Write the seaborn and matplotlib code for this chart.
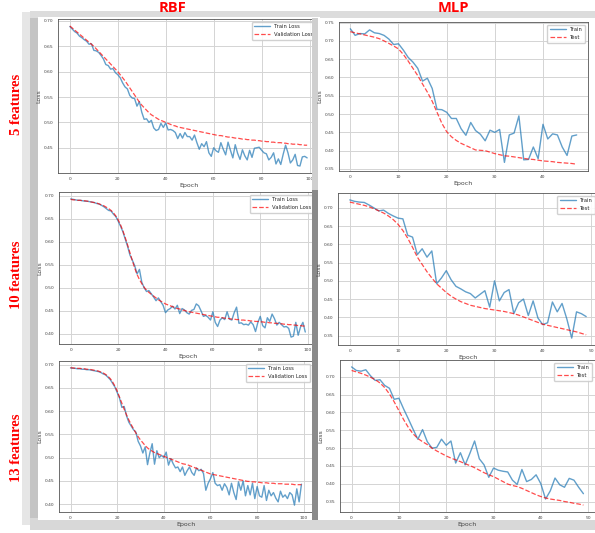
import numpy as np
import matplotlib
matplotlib.use("Agg")
import matplotlib.pyplot as plt
import seaborn as sns
from matplotlib.patches import Rectangle

# ---- data ----
rbf5_train = [0.689, 0.684, 0.679, 0.676, 0.670, 0.667, 0.663, 0.660, 0.654, 0.655,
              0.642, 0.641, 0.638, 0.632, 0.625, 0.614, 0.612, 0.605, 0.606, 0.598,
              0.594, 0.588, 0.578, 0.570, 0.566, 0.553, 0.548, 0.547, 0.532, 0.541,
              0.520, 0.506, 0.507, 0.500, 0.504, 0.489, 0.484, 0.486, 0.498, 0.490,
              0.499, 0.485, 0.486, 0.484, 0.480, 0.468, 0.478, 0.469, 0.480, 0.472,
              0.472, 0.465, 0.475, 0.460, 0.447, 0.458, 0.452, 0.462, 0.440, 0.433,
              0.450, 0.444, 0.441, 0.460, 0.447, 0.436, 0.461, 0.445, 0.430, 0.456,
              0.439, 0.427, 0.446, 0.434, 0.426, 0.445, 0.431, 0.449, 0.450, 0.451,
              0.445, 0.440, 0.438, 0.426, 0.431, 0.440, 0.418, 0.428, 0.417, 0.437,
              0.455, 0.440, 0.420, 0.426, 0.437, 0.415, 0.414, 0.432, 0.433, 0.430]
rbf5_val = [0.690, 0.686, 0.682, 0.678, 0.674, 0.670, 0.666, 0.662, 0.658, 0.654,
            0.650, 0.645, 0.640, 0.635, 0.630, 0.625, 0.620, 0.615, 0.610, 0.605,
            0.600, 0.594, 0.588, 0.582, 0.575, 0.568, 0.561, 0.554, 0.547, 0.540,
            0.534, 0.529, 0.524, 0.519, 0.515, 0.512, 0.509, 0.506, 0.504, 0.502,
            0.500, 0.498, 0.496, 0.494, 0.493, 0.491, 0.490, 0.489, 0.488, 0.487,
            0.486, 0.485, 0.484, 0.483, 0.482, 0.481, 0.480, 0.479, 0.478, 0.477,
            0.476, 0.475, 0.474, 0.474, 0.473, 0.472, 0.471, 0.471, 0.470, 0.469,
            0.469, 0.468, 0.467, 0.467, 0.466, 0.466, 0.465, 0.465, 0.464, 0.464,
            0.463, 0.463, 0.462, 0.462, 0.461, 0.461, 0.460, 0.460, 0.460, 0.459,
            0.459, 0.458, 0.458, 0.457, 0.457, 0.457, 0.456, 0.456, 0.455, 0.455]

rbf10_train = [0.693, 0.692, 0.691, 0.690, 0.690, 0.689, 0.688, 0.688, 0.687, 0.686,
               0.685, 0.683, 0.682, 0.679, 0.676, 0.672, 0.668, 0.667, 0.660, 0.655,
               0.645, 0.634, 0.622, 0.606, 0.590, 0.571, 0.560, 0.548, 0.530, 0.540,
               0.512, 0.500, 0.492, 0.494, 0.487, 0.480, 0.472, 0.478, 0.470, 0.462,
               0.446, 0.452, 0.455, 0.460, 0.454, 0.462, 0.444, 0.455, 0.452, 0.446,
               0.443, 0.451, 0.453, 0.465, 0.461, 0.450, 0.438, 0.440, 0.436, 0.430,
               0.448, 0.425, 0.416, 0.430, 0.435, 0.431, 0.448, 0.432, 0.430, 0.446,
               0.458, 0.423, 0.424, 0.420, 0.421, 0.419, 0.426, 0.420, 0.405, 0.425,
               0.438, 0.418, 0.413, 0.435, 0.427, 0.443, 0.433, 0.419, 0.425, 0.420,
               0.415, 0.416, 0.412, 0.393, 0.395, 0.425, 0.397, 0.415, 0.425, 0.404]
rbf10_val = [0.692, 0.691, 0.691, 0.690, 0.690, 0.689, 0.689, 0.688, 0.687, 0.686,
             0.685, 0.684, 0.682, 0.680, 0.678, 0.675, 0.672, 0.668, 0.663, 0.656,
             0.648, 0.637, 0.624, 0.609, 0.593, 0.576, 0.559, 0.543, 0.529, 0.518,
             0.509, 0.501, 0.495, 0.490, 0.486, 0.482, 0.478, 0.474, 0.471, 0.468,
             0.465, 0.463, 0.461, 0.459, 0.457, 0.455, 0.454, 0.452, 0.451, 0.449,
             0.448, 0.447, 0.446, 0.445, 0.444, 0.443, 0.442, 0.441, 0.440, 0.439,
             0.438, 0.437, 0.436, 0.436, 0.435, 0.434, 0.434, 0.433, 0.432, 0.432,
             0.431, 0.431, 0.430, 0.430, 0.429, 0.429, 0.428, 0.428, 0.427, 0.427,
             0.426, 0.426, 0.425, 0.425, 0.424, 0.424, 0.423, 0.423, 0.422, 0.422,
             0.421, 0.421, 0.420, 0.420, 0.419, 0.419, 0.418, 0.418, 0.417, 0.417]

rbf13_train = [0.693, 0.692, 0.692, 0.691, 0.691, 0.690, 0.690, 0.689, 0.689, 0.688,
               0.687, 0.686, 0.685, 0.683, 0.680, 0.678, 0.673, 0.668, 0.660, 0.652,
               0.640, 0.628, 0.608, 0.610, 0.590, 0.576, 0.568, 0.560, 0.555, 0.535,
               0.525, 0.510, 0.523, 0.485, 0.510, 0.530, 0.486, 0.515, 0.500, 0.505,
               0.500, 0.512, 0.484, 0.498, 0.487, 0.478, 0.480, 0.470, 0.480, 0.462,
               0.472, 0.480, 0.468, 0.462, 0.478, 0.472, 0.475, 0.466, 0.430, 0.445,
               0.455, 0.468, 0.445, 0.440, 0.442, 0.430, 0.444, 0.436, 0.420, 0.445,
               0.425, 0.410, 0.448, 0.430, 0.450, 0.418, 0.440, 0.420, 0.445, 0.412,
               0.438, 0.418, 0.415, 0.440, 0.408, 0.430, 0.418, 0.425, 0.413, 0.405,
               0.428, 0.415, 0.420, 0.412, 0.425, 0.420, 0.398, 0.433, 0.405, 0.443]
rbf13_val = [0.693, 0.693, 0.692, 0.692, 0.692, 0.691, 0.691, 0.690, 0.690, 0.689,
             0.688, 0.687, 0.686, 0.684, 0.682, 0.679, 0.675, 0.670, 0.663, 0.654,
             0.643, 0.630, 0.617, 0.604, 0.592, 0.581, 0.571, 0.562, 0.553, 0.545,
             0.538, 0.532, 0.526, 0.521, 0.517, 0.514, 0.511, 0.509, 0.507, 0.505,
             0.503, 0.501, 0.499, 0.497, 0.495, 0.493, 0.491, 0.489, 0.487, 0.486,
             0.485, 0.483, 0.481, 0.479, 0.477, 0.475, 0.473, 0.471, 0.469, 0.467,
             0.465, 0.464, 0.463, 0.462, 0.461, 0.460, 0.459, 0.458, 0.457, 0.456,
             0.455, 0.454, 0.453, 0.452, 0.451, 0.450, 0.449, 0.449, 0.448, 0.448,
             0.447, 0.447, 0.446, 0.446, 0.446, 0.445, 0.445, 0.445, 0.444, 0.444,
             0.444, 0.444, 0.443, 0.443, 0.443, 0.443, 0.442, 0.442, 0.442, 0.442]

mlp5_train = [0.733, 0.715, 0.720, 0.719, 0.730, 0.722, 0.720, 0.715, 0.705, 0.690,
              0.692, 0.675, 0.655, 0.642, 0.625, 0.590, 0.598, 0.570, 0.513, 0.512,
              0.505, 0.488, 0.488, 0.460, 0.442, 0.477, 0.455, 0.445, 0.427, 0.456,
              0.450, 0.458, 0.368, 0.443, 0.448, 0.495, 0.375, 0.376, 0.410, 0.378,
              0.472, 0.432, 0.446, 0.443, 0.410, 0.387, 0.440, 0.443]
mlp5_test = [0.725, 0.722, 0.719, 0.716, 0.713, 0.710, 0.706, 0.700, 0.693, 0.686,
             0.678, 0.663, 0.645, 0.625, 0.605, 0.582, 0.560, 0.535, 0.505, 0.475,
             0.452, 0.438, 0.428, 0.420, 0.414, 0.408, 0.402, 0.401, 0.400, 0.396,
             0.392, 0.389, 0.386, 0.385, 0.383, 0.381, 0.379, 0.377, 0.376, 0.374,
             0.372, 0.371, 0.370, 0.368, 0.367, 0.366, 0.365, 0.363]

mlp10_train = [0.722, 0.718, 0.716, 0.715, 0.708, 0.700, 0.692, 0.694, 0.685, 0.678,
               0.672, 0.670, 0.625, 0.620, 0.572, 0.588, 0.565, 0.582, 0.492, 0.508,
               0.528, 0.503, 0.485, 0.478, 0.470, 0.465, 0.453, 0.463, 0.473, 0.428,
               0.500, 0.445, 0.468, 0.476, 0.410, 0.440, 0.450, 0.405, 0.445, 0.398,
               0.380, 0.385, 0.442, 0.415, 0.438, 0.395, 0.343, 0.415, 0.410, 0.402]
mlp10_test = [0.716, 0.713, 0.710, 0.707, 0.703, 0.698, 0.692, 0.686, 0.678, 0.668,
              0.655, 0.638, 0.617, 0.592, 0.565, 0.545, 0.525, 0.508, 0.492, 0.480,
              0.468, 0.458, 0.450, 0.443, 0.438, 0.433, 0.430, 0.427, 0.424, 0.422,
              0.420, 0.418, 0.416, 0.413, 0.410, 0.406, 0.401, 0.396, 0.391, 0.386,
              0.381, 0.378, 0.375, 0.372, 0.369, 0.366, 0.363, 0.360, 0.356, 0.352]

mlp13_train = [0.728, 0.718, 0.716, 0.720, 0.703, 0.690, 0.692, 0.676, 0.668, 0.637,
               0.640, 0.610, 0.582, 0.553, 0.525, 0.552, 0.518, 0.500, 0.502, 0.525,
               0.508, 0.520, 0.458, 0.487, 0.453, 0.485, 0.520, 0.470, 0.453, 0.418,
               0.444, 0.438, 0.435, 0.433, 0.410, 0.398, 0.440, 0.406, 0.412, 0.425,
               0.400, 0.357, 0.380, 0.416, 0.397, 0.390, 0.415, 0.410, 0.390, 0.372]
mlp13_test = [0.718, 0.714, 0.710, 0.705, 0.699, 0.692, 0.683, 0.670, 0.652, 0.630,
              0.605, 0.580, 0.558, 0.540, 0.527, 0.518, 0.510, 0.500, 0.492, 0.485,
              0.478, 0.472, 0.467, 0.462, 0.456, 0.451, 0.445, 0.438, 0.431, 0.425,
              0.420, 0.413, 0.406, 0.399, 0.395, 0.392, 0.387, 0.381, 0.375, 0.369,
              0.364, 0.360, 0.357, 0.355, 0.353, 0.350, 0.348, 0.345, 0.343, 0.340]

col_titles = ["RBF", "MLP"]
row_titles = ["5 features", "10 features", "13 features"]
rbf_labels = ["Train Loss", "Validation Loss"]
mlp_labels = ["Train", "Test"]

W, H = 595, 533
sns.set_theme(style="whitegrid")
plt.rcParams["font.family"] = ["DejaVu Sans"]

fig = plt.figure(figsize=(W / 100, H / 100), dpi=100)
fig.patch.set_facecolor("white")


def rect(x0, y0, x1, y1):
    return [x0 / W, 1 - y1 / H, (x1 - x0) / W, (y1 - y0) / H]


# background shadows
bg = fig.add_axes([0, 0, 1, 1], zorder=0)
bg.set_xlim(0, W)
bg.set_ylim(H, 0)
bg.axis("off")
for (x0, y0, x1, y1, c) in [(22, 12, 40, 525, "#e6e6e6"), (30, 14, 40, 522, "#c4c4c4"),
                            (30, 11, 595, 18, "#dcdcdc"), (30, 518, 595, 530, "#d8d8d8")]:
    bg.add_patch(Rectangle((x0, y0), x1 - x0, y1 - y0, color=c, lw=0))


def card(x0, y0, x1, y1, z, strip=None):
    a = fig.add_axes(rect(x0, y0, x1, y1), zorder=z)
    a.set_xlim(x0, x1)
    a.set_ylim(y1, y0)
    a.axis("off")
    a.add_patch(Rectangle((x0, y0), x1 - x0, y1 - y0, color="white", lw=0))
    if strip:
        a.add_patch(Rectangle((x0, y0), 6, y1 - y0, color=strip, lw=0))
    return a


def panel(pos, z, train, val, labels):
    ax = fig.add_axes(rect(*pos), zorder=z)
    epochs = np.arange(len(train))
    sns.lineplot(x=epochs, y=train, ax=ax, label=labels[0], color="tab:blue",
                 alpha=0.7, lw=1.0)
    sns.lineplot(x=epochs, y=val, ax=ax, label=labels[1], color="red",
                 alpha=0.7, lw=0.9, linestyle="--")
    ax.set_facecolor("white")
    ax.grid(True, color="#d4d4d4", lw=0.7)
    for s in ax.spines.values():
        s.set_color("#555555")
        s.set_linewidth(0.6)
    ax.tick_params(labelsize=3.2, pad=1.5, length=1.5, color="#555555",
                   labelcolor="#444444")
    ax.set_xlabel("Epoch", fontsize=4.5, labelpad=1, color="#444444")
    ax.set_ylabel("Loss", fontsize=4.5, labelpad=2, color="#444444")
    ax.legend(loc="upper right", fontsize=3.8, frameon=True, framealpha=0.9,
              edgecolor="#cccccc", handlelength=3, borderpad=0.5)
    return ax


rbf_sets = [(rbf5_train, rbf5_val), (rbf10_train, rbf10_val), (rbf13_train, rbf13_val)]
mlp_sets = [(mlp5_train, mlp5_test), (mlp10_train, mlp10_test), (mlp13_train, mlp13_test)]

rbf_cards = [(38, 17, 320, 190), (38, 190, 320, 357), (38, 357, 320, 520)]
mlp_cards = [(312, 18, 595, 190), (312, 190, 595, 357), (312, 357, 595, 520)]
rbf_axes = [(58, 19, 319, 173), (59, 192, 317, 344), (59, 361, 313, 512)]
mlp_axes = [(339, 22, 588, 171), (338, 193, 598, 345), (340, 360, 595, 512)]

for i in range(3):
    card(*rbf_cards[i], z=1)
    panel(rbf_axes[i], 2, *rbf_sets[i], rbf_labels)
    card(*mlp_cards[i], z=3, strip="#8a8a8a" if i > 0 else "#cfcfcf")
    panel(mlp_axes[i], 4, *mlp_sets[i], mlp_labels)

# column and row headings
fig.text(172 / W, 1 - 8 / H, col_titles[0], color="red", fontsize=10.5,
         fontweight="bold", ha="center", va="center", family="Open Sans", zorder=10)
fig.text(453 / W, 1 - 8 / H, col_titles[1], color="red", fontsize=10.5,
         fontweight="bold", ha="center", va="center", family="Open Sans", zorder=10)
for yc, t in zip([104, 275, 448], row_titles):
    fig.text(17 / W, 1 - yc / H, t, color="red", fontsize=10.5, fontweight="bold",
             rotation=90, ha="center", va="center", family="Liberation Serif", zorder=10)

fig.savefig("out.png", dpi=100)
